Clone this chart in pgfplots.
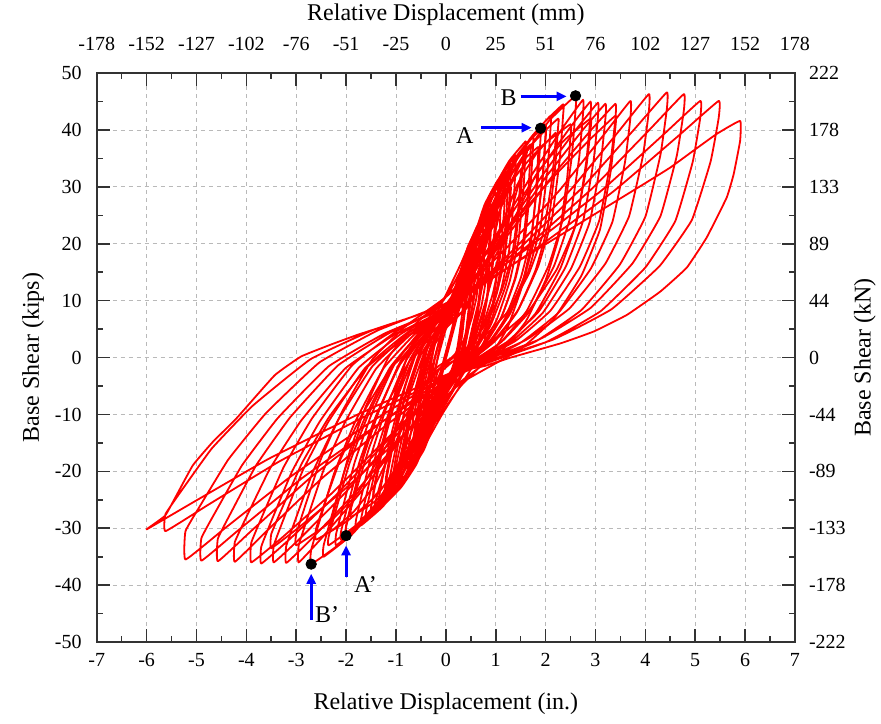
\documentclass[border=0pt]{standalone}
\usepackage{fontspec}
\setmainfont{Liberation Serif}
\usepackage{pgfplots}
\pgfplotsset{compat=1.18}
\usetikzlibrary{arrows.meta}

\newcommand{\tickfont}{\fontsize{10}{12}\selectfont}
\newcommand{\labfont}{\fontsize{12}{14}\selectfont}

\begin{document}
\begin{tikzpicture}
\begin{axis}[
    name=main,
    scale only axis,
    width=349pt, height=284.4pt,
    xmin=-7, xmax=7, ymin=-50, ymax=50,
    xtick={-7,-6,...,7},
    xticklabels={-7,-6,-5,-4,-3,-2,-1,0,1,2,3,4,5,6,7},
    ytick={-50,-40,...,50},
    yticklabels={-50,-40,-30,-20,-10,0,10,20,30,40,50},
    minor x tick num=1, minor y tick num=1,
    tick align=inside,
    major tick length=6.5pt, minor tick length=3.2pt,
    tick style={black!80, line width=0.8pt},
    axis line style={black!80, line width=1pt},
    grid=major,
    major grid style={gray!55, line width=0.4pt, dash pattern=on 2pt off 2pt},
    ticklabel style={font=\tickfont},
    yticklabel style={xshift=-4pt},
    xticklabel style={yshift=-2pt},
    xlabel={Relative Displacement (in.)},
    ylabel={Base Shear (kips)},
    label style={font=\labfont},
    xlabel style={at={(axis description cs:0.5,-0.1078)}, anchor=center},
    ylabel style={at={(axis description cs:-0.0912,0.5)}, anchor=center},
    every axis plot/.append style={line join=round},
]
% primary cycles, one continuous path (in., kips)
\addplot[color=red, line width=0.9pt, smooth, tension=0.2] coordinates {
(0.15,9.0) (0.22,10.98) (0.29,13.2) (0.345,14.28) (0.4,15) (0.4,14.5) (0.391,11.53) (0.37,7.5) (0.334,4.35) (0.28,1.38) (0.214,-0.73) (0.1,-3.0) (-0.012,-4.98) (-0.124,-7.2) (-0.212,-8.28) (-0.3,-9) (-0.3,-8.5) (-0.27,-6.35) (-0.22,-2.95) (-0.15,0.63) (-0.05,4.57) (0.06,7.07)
(0.2,9.4) (0.284,11.91) (0.368,14.72) (0.434,16.09) (0.5,17) (0.5,16.4) (0.49,12.98) (0.465,8.36) (0.423,4.74) (0.36,1.33) (0.283,-1.09) (0.15,-3.7) (-0.004,-6.11) (-0.158,-8.81) (-0.279,-10.12) (-0.4,-11) (-0.4,-10.4) (-0.364,-8.01) (-0.304,-4.23) (-0.22,-0.25) (-0.1,4.13) (0.032,6.91)
(0.2,9.5) (0.312,12.97) (0.424,16.85) (0.512,18.74) (0.6,20) (0.6,19.2) (0.584,15.34) (0.545,10.12) (0.479,6.03) (0.38,2.18) (0.259,-0.55) (0.05,-3.5) (-0.104,-6.97) (-0.258,-10.85) (-0.379,-12.74) (-0.5,-14) (-0.5,-13.2) (-0.464,-10.51) (-0.404,-6.26) (-0.32,-1.78) (-0.2,3.15) (-0.068,6.29)
(0.1,9.2) (0.296,14.41) (0.492,20.26) (0.646,23.1) (0.8,25) (0.8,24) (0.779,19.38) (0.73,13.12) (0.646,8.22) (0.52,3.6) (0.366,0.34) (0.1,-3.2) (-0.124,-8.08) (-0.348,-13.56) (-0.524,-16.22) (-0.7,-18) (-0.7,-17) (-0.646,-13.78) (-0.556,-8.69) (-0.43,-3.33) (-0.25,2.56) (-0.052,6.32)
(0.2,9.8) (0.396,15.48) (0.592,21.84) (0.746,24.94) (0.9,27) (0.9,26) (0.875,21.02) (0.815,14.28) (0.713,9.01) (0.56,4.03) (0.373,0.51) (0.05,-3.3) (-0.188,-8.65) (-0.426,-14.64) (-0.613,-17.56) (-0.8,-19.5) (-0.8,-18.5) (-0.737,-15.08) (-0.632,-9.67) (-0.485,-3.97) (-0.275,2.3) (-0.044,6.29)
(0.25,10) (0.46,16.27) (0.67,23.3) (0.835,26.72) (1.0,29) (1.0,28) (0.975,22.59) (0.915,15.28) (0.813,9.56) (0.66,4.15) (0.473,0.33) (0.15,-3.8) (-0.144,-9.64) (-0.438,-16.19) (-0.669,-19.38) (-0.9,-21.5) (-0.9,-20.5) (-0.837,-16.89) (-0.732,-11.17) (-0.585,-5.15) (-0.375,1.47) (-0.144,5.69)
(0.15,9.6) (0.444,17.16) (0.738,25.63) (0.969,29.75) (1.2,32.5) (1.2,31.3) (1.166,25.47) (1.085,17.58) (0.947,11.41) (0.74,5.58) (0.487,1.46) (0.05,-3.0) (-0.272,-9.93) (-0.594,-17.7) (-0.847,-21.48) (-1.1,-24) (-1.1,-22.8) (-1.028,-18.88) (-0.908,-12.66) (-0.74,-6.12) (-0.5,1.07) (-0.236,5.65)
(0.1,9.9) (0.436,17.85) (0.772,26.77) (1.036,31.11) (1.3,34) (1.3,32.8) (1.264,26.63) (1.18,18.28) (1.036,11.75) (0.82,5.58) (0.556,1.22) (0.1,-3.5) (-0.278,-10.76) (-0.656,-18.9) (-0.953,-22.86) (-1.25,-25.5) (-1.25,-24.3) (-1.163,-20.16) (-1.018,-13.61) (-0.815,-6.71) (-0.525,0.88) (-0.206,5.71)
(0.2,10.2) (0.536,18.55) (0.872,27.91) (1.136,32.46) (1.4,35.5) (1.4,34) (1.361,27.61) (1.27,18.96) (1.114,12.19) (0.88,5.8) (0.594,1.29) (0.1,-3.6) (-0.306,-11.16) (-0.712,-19.63) (-1.031,-23.75) (-1.35,-26.5) (-1.35,-25) (-1.263,-20.88) (-1.118,-14.37) (-0.915,-7.51) (-0.625,0.04) (-0.306,4.84)
(0.1,9.3) (0.52,18.77) (0.94,29.39) (1.27,34.56) (1.6,38) (1.6,36.5) (1.557,29.73) (1.455,20.58) (1.281,13.42) (1.02,6.65) (0.701,1.87) (0.15,-3.3) (-0.34,-11.62) (-0.83,-20.94) (-1.215,-25.48) (-1.6,-28.5) (-1.6,-27) (-1.489,-22.66) (-1.304,-15.78) (-1.045,-8.54) (-0.675,-0.57) (-0.268,4.49)
(0.25,9.2) (0.67,19.03) (1.09,30.06) (1.42,35.42) (1.75,39) (1.75,37.5) (1.702,30.6) (1.59,21.26) (1.398,13.95) (1.11,7.05) (0.758,2.18) (0.15,-3.1) (-0.396,-11.98) (-0.942,-21.93) (-1.371,-26.77) (-1.8,-30) (-1.8,-28.5) (-1.68,-23.9) (-1.48,-16.63) (-1.2,-8.97) (-0.8,-0.54) (-0.36,4.82)
(0.2,9.8) (0.676,19.87) (1.152,31.15) (1.526,36.64) (1.9,40.3) (1.9,38.8) (1.846,31.54) (1.72,21.72) (1.504,14.03) (1.18,6.78) (0.784,1.65) (0.1,-3.9) (-0.488,-12.94) (-1.076,-23.08) (-1.538,-28.01) (-2.0,-31.3) (-2.0,-29.8) (-1.868,-24.99) (-1.648,-17.37) (-1.34,-9.35) (-0.9,-0.53) (-0.416,5.09)
(0.2,10.3) (0.704,20.43) (1.208,31.79) (1.604,37.32) (2.0,41) (2.0,39.5) (1.943,32.16) (1.81,22.22) (1.582,14.44) (1.24,7.1) (0.822,1.92) (0.1,-3.7) (-0.516,-13.04) (-1.132,-23.51) (-1.616,-28.6) (-2.1,-32) (-2.1,-30.5) (-1.959,-25.7) (-1.724,-18.1) (-1.395,-10.1) (-0.925,-1.3) (-0.408,4.3)
(0.25,9.5) (0.768,20.39) (1.286,32.6) (1.693,38.54) (2.1,42.5) (2.1,40.5) (2.039,33.04) (1.895,22.94) (1.649,15.04) (1.28,7.58) (0.829,2.31) (0.05,-3.4) (-0.58,-13.17) (-1.21,-24.12) (-1.705,-29.45) (-2.2,-33) (-2.2,-31) (-2.059,-26.08) (-1.824,-18.29) (-1.495,-10.09) (-1.025,-1.07) (-0.508,4.67)
(0.15,10) (0.766,21.39) (1.382,34.15) (1.866,40.36) (2.35,44.5) (2.35,42.5) (2.283,34.77) (2.125,24.3) (1.855,16.11) (1.45,8.38) (0.955,2.92) (0.1,-3.0) (-0.614,-13.56) (-1.328,-25.4) (-1.889,-31.16) (-2.45,-35) (-2.45,-33) (-2.291,-27.88) (-2.026,-19.76) (-1.655,-11.22) (-1.125,-1.83) (-0.542,4.15)
(0.2,9.7) (0.872,21.68) (1.544,35.11) (2.072,41.64) (2.6,46) (2.6,43.5) (2.527,35.49) (2.355,24.66) (2.061,16.18) (1.62,8.18) (1.081,2.52) (0.15,-3.6) (-0.648,-14.39) (-1.446,-26.49) (-2.073,-32.38) (-2.7,-36.3) (-2.7,-33.8) (-2.526,-28.56) (-2.236,-20.25) (-1.83,-11.51) (-1.25,-1.9) (-0.612,4.22)
(0.2,9.9) (0.965,20.87) (1.73,32.2) (2.368,40.7) (2.75,45.3) (2.75,42.8) (2.671,34.96) (2.485,24.36) (2.167,16.06) (1.69,8.23) (1.107,2.69) (0.1,-3.3) (-0.815,-13.44) (-1.73,-23.9) (-2.493,-31.75) (-2.95,-36) (-2.95,-33) (-2.764,-27.9) (-2.454,-19.83) (-2.02,-11.33) (-1.4,-1.98) (-0.718,3.97)
(0.15,9.5) (0.975,20.51) (1.8,31.87) (2.488,40.39) (2.9,45) (2.9,42.5) (2.818,34.63) (2.625,23.98) (2.295,15.65) (1.8,7.78) (1.195,2.22) (0.15,-3.8) (-0.855,-13.81) (-1.86,-24.15) (-2.698,-31.9) (-3.2,-36.1) (-3.2,-33.1) (-2.993,-27.92) (-2.648,-19.71) (-2.165,-11.07) (-1.475,-1.56) (-0.716,4.48)
(0.25,10.1) (1.09,20.86) (1.93,31.96) (2.63,40.29) (3.05,44.8) (3.05,42.3) (2.962,34.57) (2.755,24.1) (2.401,15.91) (1.87,8.18) (1.221,2.72) (0.1,-3.2) (-0.965,-13.37) (-2.03,-23.86) (-2.918,-31.74) (-3.45,-36) (-3.45,-33) (-3.231,-27.89) (-2.866,-19.79) (-2.355,-11.27) (-1.625,-1.9) (-0.822,4.06)
(0.2,9.6) (1.1,20.45) (2.0,31.65) (2.75,40.05) (3.2,44.6) (3.2,42.1) (3.106,34.33) (2.885,23.82) (2.507,15.59) (1.94,7.83) (1.247,2.34) (0.05,-3.6) (-1.075,-13.71) (-2.2,-24.14) (-3.138,-31.96) (-3.7,-36.2) (-3.7,-33.2) (-3.466,-28.04) (-3.076,-19.87) (-2.53,-11.27) (-1.75,-1.81) (-0.892,4.21)
(0.2,9.8) (1.16,20.59) (2.12,31.72) (2.92,40.08) (3.4,44.6) (3.4,42.1) (3.303,34.43) (3.075,24.06) (2.685,15.94) (2.1,8.28) (1.385,2.86) (0.15,-3.0) (-1.065,-13.23) (-2.28,-23.79) (-3.293,-31.71) (-3.9,-36) (-3.9,-32.5) (-3.657,-27.38) (-3.252,-19.26) (-2.685,-10.72) (-1.875,-1.33) (-0.984,4.65)
(0.15,10.2) (1.215,19.27) (2.28,29.4) (3.168,39.17) (3.7,45.1) (3.7,42.1) (3.592,34.35) (3.34,23.86) (2.908,15.65) (2.26,7.9) (1.468,2.43) (0.1,-3.5) (-1.199,-11.92) (-2.498,-21.32) (-3.581,-30.39) (-4.23,-35.9) (-4.23,-32.4) (-3.964,-27.38) (-3.521,-19.44) (-2.901,-11.08) (-2.015,-1.89) (-1.04,3.97)
(0.2,9.4) (1.361,18.99) (2.522,29.7) (3.49,40.03) (4.07,46.3) (4.07,43.3) (3.951,35.45) (3.673,24.82) (3.197,16.5) (2.48,8.65) (1.609,3.11) (0.1,-2.9) (-1.301,-11.45) (-2.702,-21.0) (-3.87,-30.21) (-4.57,-35.8) (-4.57,-31.8) (-4.281,-26.8) (-3.799,-18.87) (-3.124,-10.53) (-2.16,-1.36) (-1.1,4.48)
(0.25,9.9) (1.504,19.44) (2.758,30.09) (3.803,40.36) (4.43,46.6) (4.43,43.6) (4.302,35.61) (4.002,24.8) (3.488,16.34) (2.718,8.35) (1.776,2.71) (0.15,-3.4) (-1.365,-11.8) (-2.88,-21.17) (-4.143,-30.21) (-4.9,-35.7) (-4.9,-31.7) (-4.594,-26.74) (-4.084,-18.9) (-3.37,-10.64) (-2.35,-1.55) (-1.228,4.23)
(0.2,9.6) (1.571,19.14) (2.942,29.79) (4.085,40.06) (4.77,46.3) (4.77,43.3) (4.63,35.46) (4.303,24.86) (3.743,16.56) (2.902,8.73) (1.875,3.19) (0.1,-2.8) (-1.496,-11.3) (-3.092,-20.79) (-4.422,-29.94) (-5.22,-35.5) (-5.22,-30.5) (-4.898,-25.63) (-4.361,-17.91) (-3.609,-9.79) (-2.535,-0.86) (-1.354,4.82)
(0.15,10.1) (1.635,19.2) (3.12,29.35) (4.358,39.15) (5.1,45.1) (5.1,42.1) (4.95,34.4) (4.6,23.98) (4.0,15.83) (3.1,8.13) (2.0,2.69) (0.1,-3.2) (-1.616,-10.3) (-3.332,-18.22) (-4.762,-25.86) (-5.62,-30.5) (-5.62,-27.5) (-5.271,-23.02) (-4.689,-15.94) (-3.874,-8.48) (-2.71,-0.27) (-1.43,4.95)
(0.2,9.8) (1.781,18.98) (3.362,29.22) (4.68,39.1) (5.47,45.1) (5.47,42.1) (5.309,34.48) (4.933,24.18) (4.289,16.12) (3.322,8.5) (2.141,3.12) (0.1,-2.7) (-1.73,-9.85) (-3.56,-17.83) (-5.085,-25.53) (-6.0,-30.2) (-5.63,-27.8) (-5.4,-24.2) (-5.07,-18.9) (-4.67,-14.8) (-4.2,-10.7) (-3.43,-3.1) (-2.9,0.2) (-2.3,2.3) (-1.77,4.0) (-1.03,6.1) (-0.23,8.5)
(0.17,10) (1.7,18.3) (3.3,26.9) (3.97,30.5) (4.5,33.4) (4.97,36.4) (5.43,39.3) (5.9,41.6) (5.9,38.1) (5.77,32.2) (5.63,28.1) (5.23,21.1) (4.83,15.8) (4.3,11.6) (3.63,7.5) (2.97,4.6) (2.3,2.5) (1.3,0) (0.77,-1.5) (0.1,-2.6)
};
% trailing (repeat) cycles
\addplot[color=red, line width=0.9pt, smooth, tension=0.2] coordinates {
(0.35,8.5) (0.448,12.3) (0.546,16.55) (0.623,18.62) (0.7,20) (0.7,19.2) (0.675,15.55) (0.615,10.6) (0.513,6.73) (0.36,3.08) (0.173,0.5) (-0.15,-2.3) (-0.276,-5.83) (-0.402,-9.79) (-0.501,-11.72) (-0.6,-13) (-0.6,-12.2) (-0.564,-9.42) (-0.504,-5.01) (-0.42,-0.37) (-0.3,4.74) (-0.168,7.98)
(0.0,11) (0.308,16.61) (0.616,22.9) (0.858,25.96) (1.1,28) (1.1,27) (1.076,21.59) (1.02,14.28) (0.924,8.56) (0.78,3.15) (0.604,-0.67) (0.3,-4.8) (-0.064,-9.82) (-0.428,-15.44) (-0.714,-18.18) (-1.0,-20) (-1.0,-19) (-0.916,-15.66) (-0.776,-10.38) (-0.58,-4.82) (-0.3,1.29) (0.008,5.19)
(0.4,8.8) (0.708,16.79) (1.016,25.74) (1.258,30.1) (1.5,33) (1.5,31.8) (1.449,25.97) (1.33,18.08) (1.126,11.91) (0.82,6.08) (0.446,1.96) (-0.2,-2.5) (-0.55,-9.76) (-0.9,-17.9) (-1.175,-21.86) (-1.45,-24.5) (-1.45,-23.3) (-1.36,-19.16) (-1.21,-12.61) (-1.0,-5.71) (-0.7,1.88) (-0.37,6.71)
(0.05,11.2) (0.554,19.71) (1.058,29.26) (1.454,33.9) (1.85,37) (1.85,35.5) (1.804,28.62) (1.695,19.3) (1.509,12.01) (1.23,5.13) (0.889,0.27) (0.3,-5) (-0.316,-12.59) (-0.932,-21.1) (-1.416,-25.24) (-1.9,-28) (-1.9,-26.5) (-1.759,-22.24) (-1.524,-15.5) (-1.195,-8.4) (-0.725,-0.59) (-0.208,4.38)
(0.45,9) (0.94,19.07) (1.43,30.35) (1.815,35.84) (2.2,39.5) (2.2,38) (2.127,31.17) (1.955,21.92) (1.661,14.68) (1.22,7.85) (0.681,3.03) (-0.25,-2.2) (-0.824,-11.54) (-1.398,-22.01) (-1.849,-27.1) (-2.3,-30.5) (-2.3,-29) (-2.162,-24.22) (-1.932,-16.66) (-1.61,-8.7) (-1.15,0.05) (-0.644,5.63)
(0.0,10.8) (0.7,20.77) (1.4,31.94) (1.95,37.38) (2.5,41) (2.5,39) (2.433,31.59) (2.275,21.56) (2.005,13.71) (1.6,6.3) (1.105,1.07) (0.25,-4.6) (-0.548,-13.64) (-1.346,-23.78) (-1.973,-28.71) (-2.6,-32) (-2.6,-30) (-2.42,-25.37) (-2.12,-18.03) (-1.7,-10.31) (-1.1,-1.82) (-0.44,3.58)
(0.4,8.6) (1.1,19.62) (1.8,31.98) (2.35,37.99) (2.9,42) (2.9,40) (2.807,32.79) (2.59,23.04) (2.218,15.41) (1.66,8.2) (0.978,3.11) (-0.2,-2.4) (-0.984,-12.5) (-1.768,-23.82) (-2.384,-29.33) (-3.0,-33) (-3.0,-31) (-2.817,-25.96) (-2.512,-17.98) (-2.085,-9.58) (-1.475,-0.34) (-0.804,5.54)
(0.05,11) (1.055,20.77) (2.06,30.85) (2.898,38.41) (3.4,42.5) (3.4,40.5) (3.307,32.85) (3.09,22.5) (2.718,14.4) (2.16,6.75) (1.478,1.35) (0.3,-4.5) (-0.84,-13.49) (-1.98,-22.77) (-2.93,-29.73) (-3.5,-33.5) (-3.5,-31) (-3.269,-26.18) (-2.884,-18.54) (-2.345,-10.5) (-1.575,-1.65) (-0.728,3.97)
(0.35,9.2) (0.616,16.06) (0.882,23.76) (1.091,27.5) (1.3,30) (1.3,29) (1.258,23.63) (1.16,16.36) (0.992,10.67) (0.74,5.3) (0.432,1.51) (-0.1,-2.6) (-0.408,-9.0) (-0.716,-16.18) (-0.958,-19.67) (-1.2,-22) (-1.2,-21) (-1.122,-17.22) (-0.992,-11.24) (-0.81,-4.94) (-0.55,1.99) (-0.264,6.4)
(0.1,10.5) (0.324,14.63) (0.548,19.25) (0.724,21.5) (0.9,23) (0.9,22) (0.881,17.55) (0.835,11.52) (0.757,6.8) (0.64,2.35) (0.497,-0.79) (0.25,-4.2) (-0.044,-8.09) (-0.338,-12.46) (-0.569,-14.58) (-0.8,-16) (-0.8,-15) (-0.734,-12.12) (-0.624,-7.56) (-0.47,-2.76) (-0.25,2.52) (-0.008,5.88) (0.3,9.0)
};
% further small cycles in the core
\addplot[color=red, line width=0.9pt, smooth, tension=0.2] coordinates {
(0.3,10.6) (0.37,13.37) (0.44,16.48) (0.495,17.99) (0.55,19) (0.55,18.4) (0.532,14.51) (0.49,9.24) (0.418,5.12) (0.31,1.23) (0.178,-1.52) (-0.05,-4.5) (-0.162,-6.98) (-0.274,-9.75) (-0.362,-11.1) (-0.45,-12) (-0.45,-11.4) (-0.42,-8.95) (-0.37,-5.08) (-0.3,-1.0) (-0.2,3.49) (-0.09,6.35)
(0.05,9.0) (0.246,13.95) (0.442,19.5) (0.596,22.2) (0.75,24) (0.75,23.2) (0.734,18.85) (0.695,12.96) (0.629,8.35) (0.53,4.0) (0.409,0.93) (0.2,-2.4) (-0.038,-7.05) (-0.276,-12.27) (-0.463,-14.81) (-0.65,-16.5) (-0.65,-15.7) (-0.593,-12.52) (-0.498,-7.49) (-0.365,-2.19) (-0.175,3.64) (0.034,7.35)
(0.3,10.8) (0.51,17.47) (0.72,24.94) (0.885,28.58) (1.05,31) (1.05,30) (1.017,24.12) (0.94,16.16) (0.808,9.93) (0.61,4.05) (0.368,-0.1) (-0.05,-4.6) (-0.302,-10.67) (-0.554,-17.48) (-0.752,-20.79) (-0.95,-23) (-0.95,-22) (-0.887,-18.3) (-0.782,-12.45) (-0.635,-6.29) (-0.425,0.48) (-0.194,4.8)
(0.1,8.8) (0.422,16.79) (0.744,25.74) (0.997,30.1) (1.25,33) (1.25,32) (1.219,26.12) (1.145,18.16) (1.019,11.93) (0.83,6.05) (0.599,1.9) (0.2,-2.6) (-0.192,-10.16) (-0.584,-18.63) (-0.892,-22.75) (-1.2,-25.5) (-1.2,-24.5) (-1.107,-20.3) (-0.952,-13.65) (-0.735,-6.65) (-0.425,1.05) (-0.084,5.95)
(0.35,10.5) (0.686,19.08) (1.022,28.7) (1.286,33.38) (1.55,36.5) (1.55,35.3) (1.5,28.55) (1.385,19.42) (1.187,12.27) (0.89,5.53) (0.527,0.76) (-0.1,-4.4) (-0.492,-12.02) (-0.884,-20.57) (-1.192,-24.73) (-1.5,-27.5) (-1.5,-26.3) (-1.407,-22.05) (-1.252,-15.33) (-1.035,-8.25) (-0.725,-0.46) (-0.384,4.5)
(0.05,9.1) (0.512,18.47) (0.974,28.98) (1.337,34.09) (1.7,37.5) (1.7,36.3) (1.657,29.7) (1.555,20.78) (1.381,13.8) (1.12,7.2) (0.801,2.54) (0.25,-2.5) (-0.296,-11.41) (-0.842,-21.4) (-1.271,-26.26) (-1.7,-29.5) (-1.7,-28.3) (-1.58,-23.66) (-1.38,-16.3) (-1.1,-8.56) (-0.7,-0.05) (-0.26,5.37)
(0.3,10.4) (0.776,20.17) (1.252,31.12) (1.626,36.45) (2.0,40) (2.0,38.5) (1.939,31.22) (1.795,21.38) (1.549,13.68) (1.18,6.4) (0.729,1.26) (-0.05,-4.3) (-0.596,-13.11) (-1.142,-22.99) (-1.571,-27.8) (-2.0,-31) (-2.0,-29.5) (-1.874,-24.88) (-1.664,-17.57) (-1.37,-9.87) (-0.95,-1.4) (-0.488,4.0)
(0.1,9.0) (0.702,19.89) (1.304,32.1) (1.777,38.04) (2.25,42) (2.25,40.5) (2.189,33.14) (2.045,23.18) (1.799,15.39) (1.43,8.03) (0.979,2.83) (0.2,-2.8) (-0.514,-12.77) (-1.228,-23.94) (-1.789,-29.38) (-2.35,-33) (-2.35,-31.5) (-2.194,-26.52) (-1.934,-18.64) (-1.57,-10.34) (-1.05,-1.21) (-0.478,4.6)
(0.2,9.5) (0.55,19) (0.9,26) (0.9,25) (0.6,12) (0.45,5) (0.35,0) (0.25,-4) (-0.2,-11) (-0.7,-18) (-0.7,-17) (-0.4,-6) (-0.1,4) (0.25,10)
(0.6,20) (1.2,31) (1.2,30) (0.8,15) (0.55,6) (0.42,1) (0.3,-3.5) (-0.4,-14) (-1.0,-22) (-1.0,-21) (-0.7,-9) (-0.3,2) (0.1,8.5) (0.3,10.5)
(0.8,22) (1.6,36) (1.6,35) (1.1,19) (0.7,7) (0.5,2) (0.35,-2.5) (0.2,-4.5) (-0.5,-16) (-1.4,-26) (-1.4,-25) (-1.0,-12) (-0.5,0.5) (0.0,7) (0.35,10)
(0.45,15) (0.6,20) (0.6,19) (0.45,8) (0.38,3) (0.3,-1) (0.2,-3.8) (-0.2,-9) (-0.5,-13) (-0.5,-12) (-0.25,-3) (0.0,5) (0.2,9)
(0.25,10) (0.35,13) (0.33,8) (0.27,4) (0.2,0) (0.1,-4) (-0.2,-8) (-0.15,-4) (0.0,1) (0.12,5) (0.2,8) (0.3,11)
(0.45,15) (0.4,9) (0.32,5) (0.24,1) (0.15,-3) (-0.1,-7) (-0.25,-9) (-0.1,-3) (0.05,2) (0.18,6.5) (0.28,9.5)
(0.4,12) (0.36,7) (0.26,3) (0.16,-1) (0.0,-5) (-0.15,-7) (-0.05,-2) (0.1,3) (0.22,7) (0.32,10)
};
% marked points A, B, A', B'
\addplot[only marks, mark=*, mark size=2.6pt, black] coordinates {(1.9,40.3) (2.6,46) (-2.0,-31.3) (-2.7,-36.3)};
\draw[blue, line width=1.5pt, -{Triangle[length=5pt,width=4.5pt]}] (axis cs:1.5,45.9) -- (axis cs:2.42,45.9);
\draw[blue, line width=1.5pt, -{Triangle[length=5pt,width=4.5pt]}] (axis cs:0.7,40.4) -- (axis cs:1.72,40.4);
\draw[blue, line width=1.5pt, -{Triangle[length=5pt,width=4.5pt]}] (axis cs:-2.0,-38.5) -- (axis cs:-2.0,-33.0);
\draw[blue, line width=1.5pt, -{Triangle[length=5pt,width=4.5pt]}] (axis cs:-2.7,-46.1) -- (axis cs:-2.7,-38.0);
\node[font=\labfont] at (axis cs:1.26,45.6) {B};
\node[font=\labfont] at (axis cs:0.38,39.1) {A};
\node[font=\labfont] at (axis cs:-1.61,-39.9) {A'};
\node[font=\labfont] at (axis cs:-2.38,-45.2) {B'};
\coordinate (bbSW) at (axis description cs:-0.1385,-0.143);
\coordinate (bbNE) at (axis description cs:1.1232,1.1284);
\end{axis}
\begin{axis}[
    scale only axis,
    width=349pt, height=284.4pt,
    xmin=-7, xmax=7, ymin=-50, ymax=50,
    xtick={-7,-6,...,7},
    xticklabels={-178,-152,-127,-102,-76,-51,-25,0,25,51,76,102,127,152,178},
    ytick={-50,-40,...,50},
    yticklabels={-222,-178,-133,-89,-44,0,44,89,133,178,222},
    xticklabel pos=right, yticklabel pos=right,
    axis line style={draw=none}, tick style={draw=none},
    ticklabel style={font=\tickfont},
    xticklabel style={yshift=7.5pt},
    yticklabel style={xshift=3.5pt},
    xlabel={Relative Displacement (mm)},
    ylabel={Base Shear (kN)},
    label style={font=\labfont},
    xlabel style={at={(axis description cs:0.5,1.102)}, anchor=center},
    ylabel style={at={(axis description cs:1.1002,0.5)}, anchor=center},
]
\end{axis}
\pgfresetboundingbox
\useasboundingbox (bbSW) rectangle (bbNE);
\end{tikzpicture}
\end{document}
